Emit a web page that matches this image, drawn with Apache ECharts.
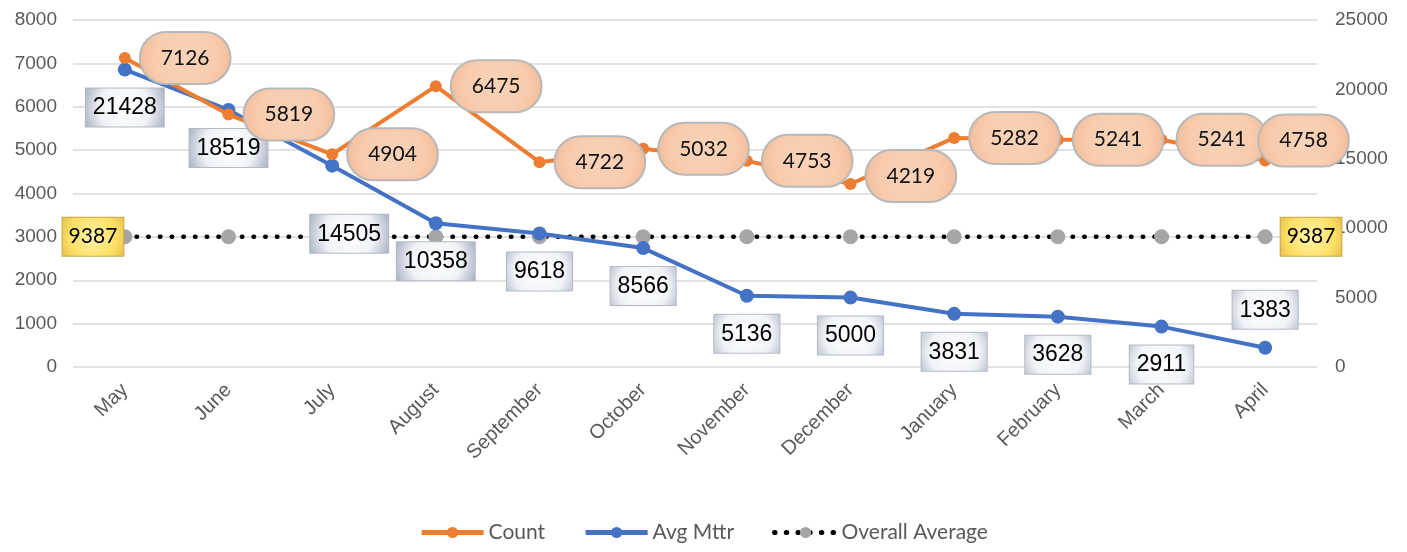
<!DOCTYPE html>
<html>
<head>
<meta charset="utf-8">
<script src="https://cdn.jsdelivr.net/npm/echarts@6/dist/echarts.min.js"></script>
<style>
  html, body { margin: 0; padding: 0; background: #fff; }
  #main { width: 1407px; height: 552px; }
</style>
</head>
<body>
<div id="main"></div>
<script>
const months = ['May', 'June', 'July', 'August', 'September', 'October', 'November', 'December', 'January', 'February', 'March', 'April'];
const countData = [7126, 5819, 4904, 6475, 4722, 5032, 4753, 4219, 5282, 5241, 5241, 4758];
const mttrData = [21428, 18519, 14505, 10358, 9618, 8566, 5136, 5000, 3831, 3628, 2911, 1383];
const overallAvg = [9387, 9387, 9387, 9387, 9387, 9387, 9387, 9387, 9387, 9387, 9387, 9387];

// label nudges so the callouts sit like the original
const countLabelOffset = { 7: [0, -8], 11: [-22, -20] };
const mttrLabelOffset = { 2: [17, 30], 11: 'top' };

const chart = echarts.init(document.getElementById('main'));

const bubble = {
    show: true,
    position: 'right',
    distance: 10,
    fontFamily: 'Lato',
    fontSize: 21,
    color: '#111',
    padding: [15, 20, 14, 20],
    borderRadius: 27,
    backgroundColor: new echarts.graphic.RadialGradient(0.5, 0.5, 1.0, [
        { offset: 0, color: '#fad3b8' },
        { offset: 0.6, color: '#f8cbad' },
        { offset: 1, color: '#eeb58d' }
    ]),
    borderColor: '#b8b8b8',
    borderWidth: 2
};

const box = {
    show: true,
    position: 'bottom',
    distance: 12,
    fontFamily: 'Liberation Sans',
    fontSize: 23,
    color: '#000',
    padding: [8, 7, 7, 7],
    backgroundColor: new echarts.graphic.RadialGradient(0.5, 0.5, 1.4, [
        { offset: 0, color: '#ffffff' },
        { offset: 0.45, color: '#f0f3f8' },
        { offset: 1, color: '#7a859e' }
    ]),
    borderColor: '#b4bac6',
    borderWidth: 1
};

const yellow = {
    show: true,
    fontFamily: 'Lato',
    fontSize: 21,
    color: '#000',
    padding: [9, 6, 8, 6],
    backgroundColor: new echarts.graphic.RadialGradient(0.5, 0.5, 1.3, [
        { offset: 0, color: '#fff3a8' },
        { offset: 0.45, color: '#ffe066' },
        { offset: 1, color: '#c9992a' }
    ]),
    borderColor: '#c8a646',
    borderWidth: 1
};

const option = {
    animation: false,
    backgroundColor: '#fff',
    textStyle: { fontFamily: 'Liberation Sans' },
    legend: {
        bottom: 4,
        left: 'center',
        itemWidth: 62,
        itemHeight: 14,
        itemGap: 38,
        lineStyle: { width: 5 },
        textStyle: { fontFamily: 'Lato', fontSize: 21, color: '#595959' },
        data: ['Count', 'Avg Mttr', 'Overall Average']
    },
    grid: { left: 73, right: 90, top: 20, bottom: 185 },
    xAxis: {
        type: 'category',
        data: months,
        axisLine: { show: false },
        axisTick: { show: false },
        axisLabel: {
            interval: 0,
            rotate: 45,
            fontFamily: 'Liberation Sans',
            fontSize: 20,
            color: '#595959',
            margin: 20
        }
    },
    yAxis: [{
        type: 'value',
        min: 0,
        max: 8000,
        interval: 1000,
        axisLine: { show: false },
        axisTick: { show: false },
        axisLabel: {
            fontFamily: 'Liberation Sans',
            fontSize: 19,
            color: '#595959',
            margin: 16,
            formatter: v => String(v)
        },
        splitLine: { lineStyle: { color: '#d9d9d9', width: 1.5 } }
    }, {
        type: 'value',
        min: 0,
        max: 25000,
        interval: 5000,
        axisLine: { show: false },
        axisTick: { show: false },
        axisLabel: {
            fontFamily: 'Liberation Sans',
            fontSize: 19,
            color: '#595959',
            margin: 18,
            formatter: v => String(v)
        },
        splitLine: { show: false }
    }],
    series: [{
        name: 'Count',
        type: 'line',
        yAxisIndex: 0,
        symbol: 'circle',
        symbolSize: 12,
        z: 4,
        itemStyle: { color: '#ed7d31' },
        lineStyle: { color: '#ed7d31', width: 4 },
        label: bubble,
        data: countData.map((v, i) => countLabelOffset[i]
            ? { value: v, label: { offset: countLabelOffset[i] } }
            : v)
    }, {
        name: 'Avg Mttr',
        type: 'line',
        yAxisIndex: 1,
        symbol: 'circle',
        symbolSize: 14,
        z: 3,
        itemStyle: { color: '#4472c4' },
        lineStyle: { color: '#4472c4', width: 4 },
        label: box,
        data: mttrData.map((v, i) => {
            const o = mttrLabelOffset[i];
            if (!o) return v;
            if (o === 'top') return { value: v, label: { position: 'top' } };
            return { value: v, label: { offset: o } };
        })
    }, {
        name: 'Overall Average',
        type: 'line',
        yAxisIndex: 1,
        symbol: 'circle',
        symbolSize: 15,
        z: 2,
        itemStyle: { color: '#a6a6a6' },
        lineStyle: { color: '#000', width: 4.5, type: [0.5, 11.2], cap: 'round' },
        data: overallAvg.map((v, i) => {
            const last = overallAvg.length - 1;
            return {
                value: v,
                label: Object.assign({}, yellow, {
                    show: i === 0 || i === last,
                    position: i === 0 ? 'left' : 'right',
                    distance: i === 0 ? -6 : 8
                })
            };
        })
    }]
};

chart.setOption(option);
</script>
</body>
</html>
